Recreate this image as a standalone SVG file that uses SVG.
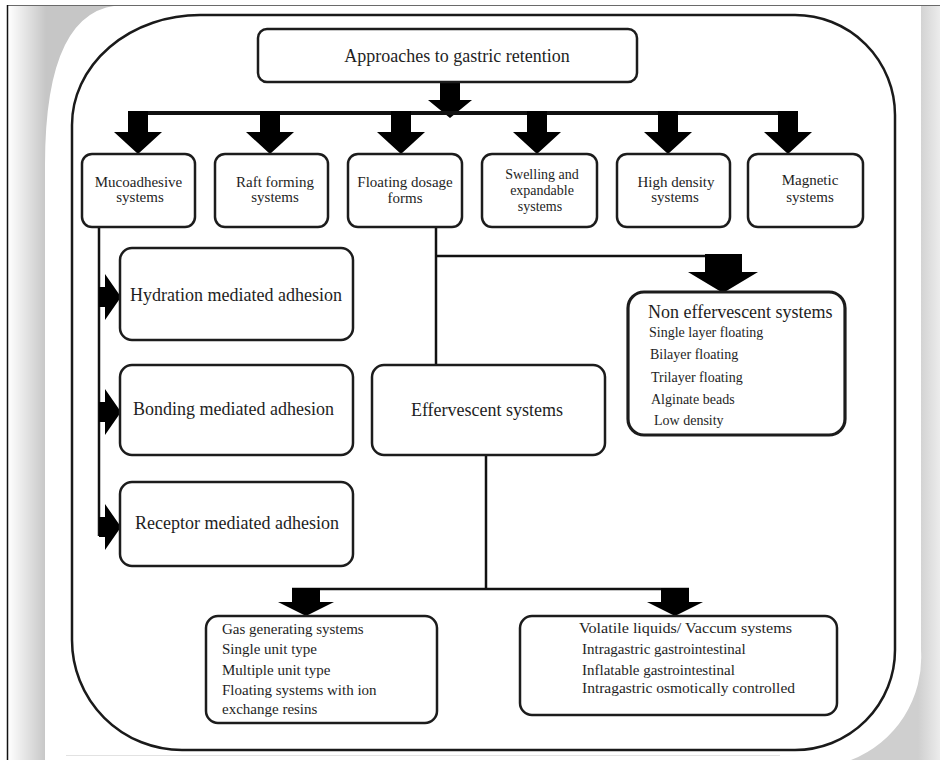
<svg xmlns="http://www.w3.org/2000/svg" width="940" height="760" viewBox="0 0 940 760">
  <defs>
    <linearGradient id="shL" gradientUnits="userSpaceOnUse" x1="8" y1="0" x2="46" y2="0">
      <stop offset="0" stop-color="#ffffff"/>
      <stop offset="1" stop-color="#c6c6c6"/>
    </linearGradient>
    <linearGradient id="shR" gradientUnits="userSpaceOnUse" x1="918" y1="0" x2="940" y2="0">
      <stop offset="0" stop-color="#cfcfcf"/>
      <stop offset="1" stop-color="#ececec"/>
    </linearGradient>
    <style>
      .box { fill: #fff; stroke: #1c1c1c; stroke-width: 2.5; }
      .t { font-family: "Liberation Serif", "Times New Roman", serif; fill: #1e1e1e; }
      .c { text-anchor: middle; }
      .s15 { font-size: 15px; }
      .s14 { font-size: 14px; }
      .s18 { font-size: 18px; }
      .ln { stroke: #111; stroke-width: 2.5; fill: none; }
      .ar { fill: #000; }
    </style>
  </defs>

  <!-- page background and shadow -->
  <rect x="0" y="0" width="940" height="760" fill="#fff"/>
  <rect x="8" y="6" width="462" height="754" fill="url(#shL)"/>
  <rect x="470" y="6" width="470" height="754" fill="url(#shR)"/>
  <path d="M45 760 L45 165 Q45 5 125 5 L921 5 L921 650 A110 110 0 0 1 851 760 Z" fill="#fff"/>
  <line x1="7" y1="5.5" x2="940" y2="5.5" stroke="#6a6a6a" stroke-width="1.2"/>
  <line x1="7.5" y1="5" x2="7.5" y2="760" stroke="#111" stroke-width="1.5"/>
  <line x1="66" y1="755.5" x2="780" y2="755.5" stroke="#e2e2e2" stroke-width="1"/>

  <!-- outer frame -->
  <path d="M200 15 L795 15 A100 100 0 0 1 895 115 L895 650 A100 100 0 0 1 795 750 L182 750 A110 110 0 0 1 72 640 L72 125 A128 110 0 0 1 200 15 Z" fill="none" stroke="#1a1a1a" stroke-width="2.5"/>

  <!-- connectors -->
  <g id="connectors">
    <polygon class="ar" points="440,82 460,82 460,100 472,100 450,118 428,100 440,100"/>
    <line class="ln" x1="128" y1="113" x2="798" y2="113" style="stroke-width:4"/>
    <polygon class="ar" points="128,111 148,111 148,132 162,132 138,154 114,132 128,132"/>
    <polygon class="ar" points="260,111 280,111 280,132 294,132 270,154 246,132 260,132"/>
    <polygon class="ar" points="391,111 411,111 411,132 425,132 401,154 377,132 391,132"/>
    <polygon class="ar" points="527,111 547,111 547,132 561,132 537,154 513,132 527,132"/>
    <polygon class="ar" points="658,111 678,111 678,132 692,132 668,154 644,132 658,132"/>
    <polygon class="ar" points="778,111 798,111 798,132 812,132 788,154 764,132 778,132"/>

    <line class="ln" x1="99" y1="227" x2="99" y2="536"/>
    <polygon class="ar" points="99,287 105,287 105,274 121,297 105,320 105,307 99,307"/>
    <polygon class="ar" points="99,402 105,402 105,389 121,412 105,435 105,422 99,422"/>
    <polygon class="ar" points="99,517 105,517 105,504 121,527 105,550 105,537 99,537"/>

    <line class="ln" x1="436" y1="227" x2="436" y2="365"/>
    <line class="ln" x1="436" y1="256" x2="742" y2="256"/>
    <polygon class="ar" points="705,254 742,254 742,272 758,272 723,293 688,272 705,272"/>

    <line class="ln" x1="486" y1="455" x2="486" y2="589"/>
    <line class="ln" x1="292" y1="589" x2="689" y2="589"/>
    <polygon class="ar" points="292,588 320,588 320,602 334,602 306,616 278,602 292,602"/>
    <polygon class="ar" points="661,588 689,588 689,602 703,602 675,616 647,602 661,602"/>
  </g>

  <g id="approaches">
    <rect class="box" x="258" y="29" width="379" height="53" rx="9"/>
    <text class="t c" x="457" y="62" style="font-size:18px">Approaches to gastric retention</text>
  </g>

  <g id="mucoadhesive">
    <rect class="box" x="82" y="154" width="113" height="73" rx="10"/>
    <text class="t c s15" x="138.5" y="187">Mucoadhesive</text>
    <text class="t c s15" x="140" y="202">systems</text>
  </g>
  <g id="raft">
    <rect class="box" x="215" y="154" width="113" height="73" rx="10"/>
    <text class="t c s15" x="275" y="187">Raft forming</text>
    <text class="t c s15" x="275" y="202">systems</text>
  </g>
  <g id="floating">
    <rect class="box" x="348" y="154" width="114" height="73" rx="10"/>
    <text class="t c s15" x="405" y="187">Floating dosage</text>
    <text class="t c s15" x="405" y="203">forms</text>
  </g>
  <g id="swelling">
    <rect class="box" x="482" y="154" width="115" height="73" rx="10"/>
    <text class="t c s14" x="542" y="179">Swelling and</text>
    <text class="t c s14" x="542" y="195">expandable</text>
    <text class="t c s14" x="540" y="211">systems</text>
  </g>
  <g id="highdensity">
    <rect class="box" x="617" y="154" width="113" height="73" rx="10"/>
    <text class="t c s15" x="676" y="187">High density</text>
    <text class="t c s15" x="675" y="202">systems</text>
  </g>
  <g id="magnetic">
    <rect class="box" x="748" y="154" width="115" height="73" rx="10"/>
    <text class="t c s15" x="810" y="185">Magnetic</text>
    <text class="t c s15" x="810" y="202">systems</text>
  </g>

  <g id="hydration">
    <rect class="box" x="120" y="248" width="233" height="92" rx="12"/>
    <text class="t s18" x="130" y="301">Hydration mediated adhesion</text>
  </g>
  <g id="bonding">
    <rect class="box" x="120" y="365" width="233" height="90" rx="12"/>
    <text class="t s18" x="133" y="415">Bonding mediated adhesion</text>
  </g>
  <g id="receptor">
    <rect class="box" x="120" y="482" width="233" height="84" rx="12"/>
    <text class="t s18" x="135" y="529">Receptor mediated adhesion</text>
  </g>

  <g id="effervescent">
    <rect class="box" x="372" y="365" width="233" height="90" rx="12"/>
    <text class="t c s18" x="487" y="416">Effervescent systems</text>
  </g>

  <g id="noneffervescent">
    <rect class="box" x="628" y="292" width="217" height="143" rx="16" style="stroke-width:3.2"/>
    <text class="t s18" x="648" y="318">Non effervescent systems</text>
    <text class="t s14" x="649" y="337">Single layer floating</text>
    <text class="t s14" x="650" y="359">Bilayer floating</text>
    <text class="t s14" x="651" y="382">Trilayer floating</text>
    <text class="t s14" x="651" y="404">Alginate beads</text>
    <text class="t s14" x="654" y="425">Low density</text>
  </g>

  <g id="gasgenerating">
    <rect class="box" x="206" y="616" width="231" height="107" rx="12"/>
    <text class="t s15" x="222" y="634">Gas generating systems</text>
    <text class="t s15" x="222" y="654">Single unit type</text>
    <text class="t s15" x="222" y="675">Multiple unit type</text>
    <text class="t s15" x="222" y="695">Floating systems with ion</text>
    <text class="t s15" x="222" y="714">exchange resins</text>
  </g>

  <g id="volatile">
    <rect class="box" x="520" y="616" width="317" height="99" rx="12"/>
    <text class="t s15" x="579" y="633" textLength="213" lengthAdjust="spacingAndGlyphs">Volatile liquids/ Vaccum systems</text>
    <text class="t s15" x="582" y="654">Intragastric gastrointestinal</text>
    <text class="t s15" x="582" y="675">Inflatable gastrointestinal</text>
    <text class="t s15" x="582" y="693" textLength="213" lengthAdjust="spacingAndGlyphs">Intragastric osmotically controlled</text>
  </g>
</svg>
